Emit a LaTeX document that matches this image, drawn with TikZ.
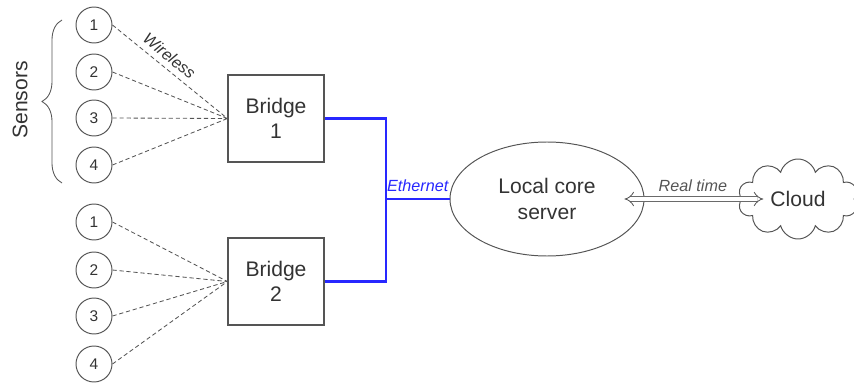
\documentclass[tikz,border=0pt]{standalone}
\usepackage{fontspec}
\setmainfont{Liberation Sans}
\usetikzlibrary{shapes.geometric,shapes.symbols,arrows.meta,decorations.pathreplacing}

\definecolor{linegray}{RGB}{85,85,85}
\definecolor{textgray}{RGB}{51,51,51}
\definecolor{netblue}{RGB}{40,40,255}

\tikzset{
  sensor/.style={circle,draw=linegray,line width=0.7pt,minimum size=0.9cm,
    inner sep=0pt,text=textgray,font=\fontsize{11}{13}\selectfont},
  bridgebox/.style={draw=linegray,line width=0.8pt,minimum width=2.4cm,
    minimum height=2.175cm,align=center,text=textgray,
    font=\fontsize{15}{18}\selectfont},
  wireless/.style={draw=linegray,line width=0.6pt,dash pattern=on 3pt off 2pt},
  ethernet/.style={draw=netblue,line width=1.8pt},
  lbl/.style={font=\fontsize{11.5}{13}\selectfont\itshape,inner sep=2pt}
}

\begin{document}
\begin{tikzpicture}[text=textgray]
\useasboundingbox (0,0) rectangle (21.35,9.575);

% Sensors, first group
\node[sensor] (sa1) at (2.35,8.95) {1};
\node[sensor] (sa2) at (2.35,7.775) {2};
\node[sensor] (sa3) at (2.35,6.625) {3};
\node[sensor] (sa4) at (2.35,5.45) {4};

% Sensors, second group
\node[sensor] (sb1) at (2.35,4.025) {1};
\node[sensor] (sb2) at (2.35,2.825) {2};
\node[sensor] (sb3) at (2.35,1.675) {3};
\node[sensor] (sb4) at (2.35,0.475) {4};

% Brace and its label
\draw[linegray,line width=0.6pt,decorate,decoration={brace,amplitude=0.5cm}]
  (1.55,5.0) -- (1.55,9.075);
\node[rotate=90,font=\fontsize{15}{18}\selectfont] (sens) at (0.5,7.075) {Sensors};

% Bridges
\node[bridgebox] (b1) at (6.9,6.6125) {Bridge\\1};
\node[bridgebox] (b2) at (6.9,2.5375) {Bridge\\2};

%--------------------------------------------------
% Wireless links
%--------------------------------------------------
\draw[wireless] (sa1.east) -- node[lbl,pos=0.43,sloped,above,yshift=2pt] {Wireless} (b1.west);
\draw[wireless] (sa2.east) -- (b1.west);
\draw[wireless] (sa3.east) -- (b1.west);
\draw[wireless] (sa4.east) -- (b1.west);

\draw[wireless] (sb1.east) -- (b2.west);
\draw[wireless] (sb2.east) -- (b2.west);
\draw[wireless] (sb3.east) -- (b2.west);
\draw[wireless] (sb4.east) -- (b2.west);

% Server and cloud
\node[ellipse,draw=linegray,line width=0.7pt,minimum width=4.85cm,
  minimum height=2.85cm,align=center,font=\fontsize{15}{18}\selectfont]
  (server) at (13.675,4.6) {Local core\\server};
\node[cloud,draw=linegray,line width=0.7pt,cloud puffs=10,cloud ignores aspect,
  minimum width=3.0cm,minimum height=2.0cm,font=\fontsize{15}{18}\selectfont]
  (cloud) at (19.95,4.6) {Cloud};

%--------------------------------------------------
% Ethernet
%--------------------------------------------------
\coordinate (hub) at (9.65,4.6);
\draw[ethernet] (b1.east) -| (hub);
\draw[ethernet] (b2.east) -| (hub);
\draw[ethernet] (hub) -- node[lbl,above,yshift=2pt,text=netblue] {Ethernet} (server.west);

% Uplink
\draw[linegray,line width=0.6pt,double,double distance=3pt,{Implies}-{Implies},
  shorten <=-0.5cm,shorten >=-0.55cm]
  (server.east) -- node[lbl,above,yshift=3pt] {Real time} (cloud.west);

\end{tikzpicture}
\end{document}
